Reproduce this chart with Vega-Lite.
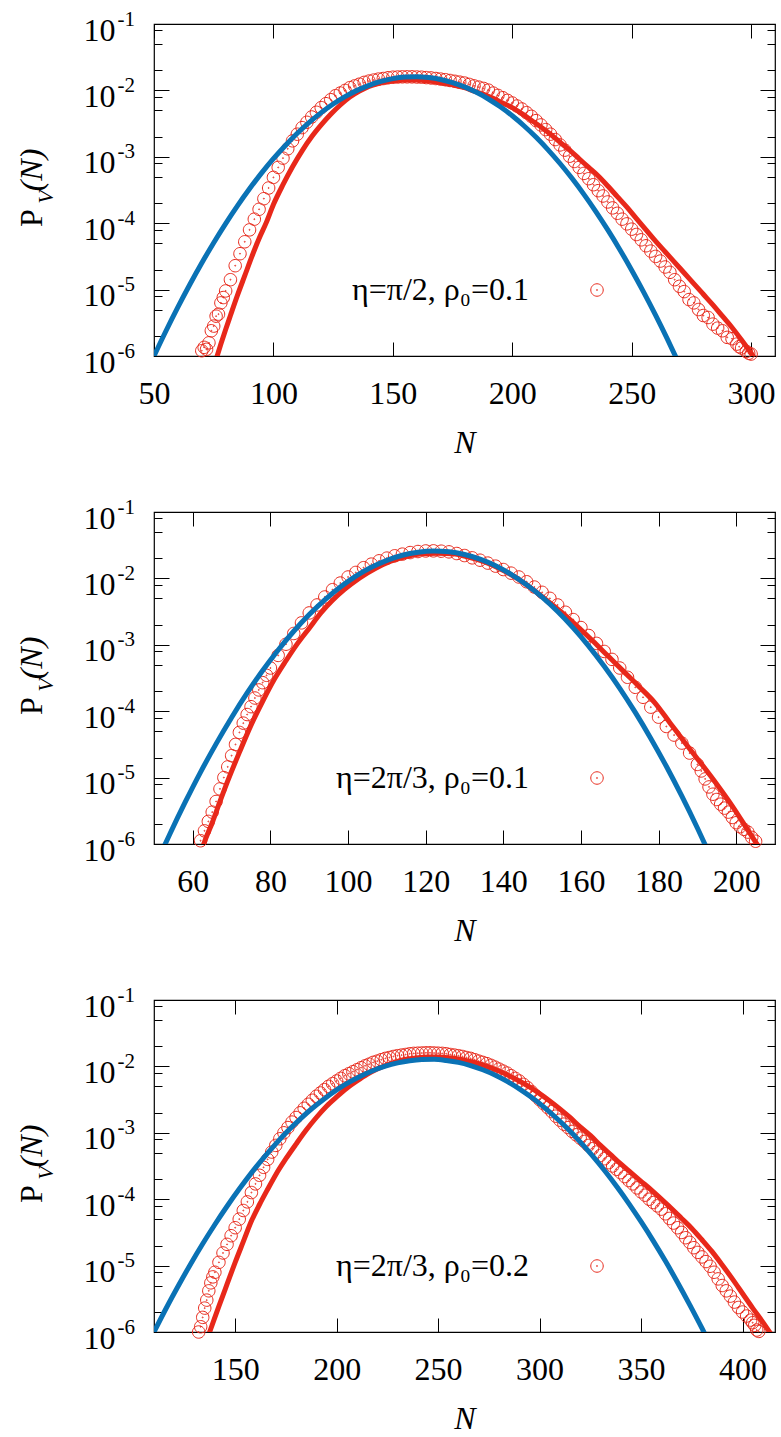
{
"$schema": "https://vega.github.io/schema/vega-lite/v6.json",
"padding": {"left": 14, "top": 7, "right": 0, "bottom": 0},
"spacing": 156,
"bounds": "flush",
"resolve": {"scale": {"x": "independent", "y": "independent", "color": "independent"}, "legend": {"color": "independent"}},
"config": {
  "font": "Liberation Serif",
  "view": {"stroke": "black", "strokeWidth": 1.2},
  "style": {"guide-label": {"font": "Liberation Serif"}, "guide-title": {"font": "Liberation Serif"}},
  "axis": {"labelFont": "Liberation Serif", "titleFont": "Liberation Serif", "labelColor": "black", "titleColor": "black", "tickColor": "black", "tickWidth": 1, "domain": false, "grid": false, "labelFlush": false, "labelOverlap": false, "titleFontWeight": "normal", "labelFontSize": 32, "titleFontSize": 32},
  "legend": {"labelFont": "Liberation Serif"}
},
"datasets": {
"c1": [{"N":70,"P":1.20e-6},{"N":71,"P":1.35e-6},{"N":72,"P":1.26e-6},{"N":73,"P":1.58e-6},{"N":74,"P":2.40e-6},{"N":75,"P":2.82e-6},{"N":76,"P":3.98e-6},{"N":77,"P":4.27e-6},{"N":78,"P":6.31e-6},{"N":79,"P":7.59e-6},{"N":80,"P":9.55e-6},{"N":82,"P":1.41e-5},{"N":84,"P":2.29e-5},{"N":86,"P":3.47e-5},{"N":88,"P":5.25e-5},{"N":90,"P":7.94e-5},{"N":92,"P":1.15e-4},{"N":94,"P":1.62e-4},{"N":96,"P":2.34e-4},{"N":98,"P":3.39e-4},{"N":100,"P":4.90e-4},{"N":102,"P":6.92e-4},{"N":104,"P":9.55e-4},{"N":106,"P":1.32e-3},{"N":108,"P":1.74e-3},{"N":110,"P":2.19e-3},{"N":112,"P":2.75e-3},{"N":114,"P":3.31e-3},{"N":116,"P":3.98e-3},{"N":118,"P":4.68e-3},{"N":120,"P":5.50e-3},{"N":122,"P":6.31e-3},{"N":124,"P":7.24e-3},{"N":126,"P":8.32e-3},{"N":128,"P":9.12e-3},{"N":130,"P":1.00e-2},{"N":132,"P":1.10e-2},{"N":134,"P":1.17e-2},{"N":136,"P":1.24e-2},{"N":138,"P":1.32e-2},{"N":140,"P":1.38e-2},{"N":142,"P":1.43e-2},{"N":144,"P":1.48e-2},{"N":146,"P":1.51e-2},{"N":148,"P":1.55e-2},{"N":150,"P":1.58e-2},{"N":152,"P":1.59e-2},{"N":154,"P":1.60e-2},{"N":156,"P":1.60e-2},{"N":158,"P":1.60e-2},{"N":160,"P":1.59e-2},{"N":162,"P":1.58e-2},{"N":164,"P":1.56e-2},{"N":166,"P":1.54e-2},{"N":168,"P":1.51e-2},{"N":170,"P":1.48e-2},{"N":172,"P":1.45e-2},{"N":174,"P":1.41e-2},{"N":176,"P":1.37e-2},{"N":178,"P":1.33e-2},{"N":180,"P":1.29e-2},{"N":182,"P":1.23e-2},{"N":184,"P":1.17e-2},{"N":186,"P":1.12e-2},{"N":188,"P":1.07e-2},{"N":190,"P":1.01e-2},{"N":192,"P":9.12e-3},{"N":194,"P":8.41e-3},{"N":196,"P":7.76e-3},{"N":198,"P":7.08e-3},{"N":200,"P":6.46e-3},{"N":202,"P":5.82e-3},{"N":204,"P":5.25e-3},{"N":206,"P":4.62e-3},{"N":208,"P":4.07e-3},{"N":210,"P":3.51e-3},{"N":212,"P":3.02e-3},{"N":214,"P":2.57e-3},{"N":216,"P":2.19e-3},{"N":218,"P":1.82e-3},{"N":220,"P":1.51e-3},{"N":222,"P":1.26e-3},{"N":224,"P":1.02e-3},{"N":226,"P":8.51e-4},{"N":228,"P":6.92e-4},{"N":230,"P":5.62e-4},{"N":232,"P":4.68e-4},{"N":234,"P":3.80e-4},{"N":236,"P":3.09e-4},{"N":238,"P":2.57e-4},{"N":240,"P":2.09e-4},{"N":242,"P":1.70e-4},{"N":244,"P":1.41e-4},{"N":246,"P":1.15e-4},{"N":248,"P":9.77e-5},{"N":250,"P":8.13e-5},{"N":252,"P":6.76e-5},{"N":254,"P":5.62e-5},{"N":256,"P":4.57e-5},{"N":258,"P":3.80e-5},{"N":260,"P":3.16e-5},{"N":262,"P":2.69e-5},{"N":264,"P":2.19e-5},{"N":266,"P":1.82e-5},{"N":268,"P":1.41e-5},{"N":270,"P":1.12e-5},{"N":272,"P":9.33e-6},{"N":274,"P":7.08e-6},{"N":276,"P":6.31e-6},{"N":278,"P":5.01e-6},{"N":280,"P":4.07e-6},{"N":282,"P":3.80e-6},{"N":284,"P":3.02e-6},{"N":286,"P":2.63e-6},{"N":288,"P":2.40e-6},{"N":290,"P":1.91e-6},{"N":292,"P":1.82e-6},{"N":294,"P":1.51e-6},{"N":295,"P":1.38e-6},{"N":296,"P":1.32e-6},{"N":298,"P":1.17e-6},{"N":299,"P":1.10e-6},{"N":300,"P":1.07e-6}],
"l1": [{"N":76,"P":8.91e-7},{"N":78,"P":1.51e-6},{"N":80,"P":2.51e-6},{"N":82,"P":4.07e-6},{"N":85,"P":8.32e-6},{"N":88,"P":1.62e-5},{"N":91,"P":3.16e-5},{"N":94,"P":5.89e-5},{"N":97,"P":1.02e-4},{"N":100,"P":1.91e-4},{"N":104,"P":3.80e-4},{"N":108,"P":7.08e-4},{"N":112,"P":1.23e-3},{"N":116,"P":2.00e-3},{"N":120,"P":3.02e-3},{"N":124,"P":4.37e-3},{"N":128,"P":6.03e-3},{"N":132,"P":7.94e-3},{"N":136,"P":9.77e-3},{"N":140,"P":1.15e-2},{"N":144,"P":1.27e-2},{"N":148,"P":1.36e-2},{"N":152,"P":1.41e-2},{"N":156,"P":1.44e-2},{"N":160,"P":1.43e-2},{"N":164,"P":1.40e-2},{"N":168,"P":1.35e-2},{"N":172,"P":1.27e-2},{"N":176,"P":1.19e-2},{"N":180,"P":1.10e-2},{"N":184,"P":9.77e-3},{"N":188,"P":8.71e-3},{"N":192,"P":7.59e-3},{"N":196,"P":6.46e-3},{"N":200,"P":5.50e-3},{"N":204,"P":4.47e-3},{"N":208,"P":3.55e-3},{"N":212,"P":2.82e-3},{"N":216,"P":2.19e-3},{"N":220,"P":1.66e-3},{"N":224,"P":1.26e-3},{"N":228,"P":9.33e-4},{"N":232,"P":6.92e-4},{"N":236,"P":5.13e-4},{"N":240,"P":3.63e-4},{"N":244,"P":2.51e-4},{"N":248,"P":1.74e-4},{"N":252,"P":1.17e-4},{"N":256,"P":7.94e-5},{"N":260,"P":5.37e-5},{"N":264,"P":3.72e-5},{"N":268,"P":2.57e-5},{"N":272,"P":1.78e-5},{"N":276,"P":1.23e-5},{"N":280,"P":8.51e-6},{"N":284,"P":5.89e-6},{"N":288,"P":3.98e-6},{"N":292,"P":2.69e-6},{"N":296,"P":1.74e-6},{"N":300,"P":1.10e-6},{"N":303,"P":7.59e-7}],
"b1": [{"N":50,"P":1.000e-6},{"N":55,"P":2.381e-6},{"N":60,"P":5.440e-6},{"N":65,"P":1.193e-5},{"N":70,"P":2.515e-5},{"N":75,"P":5.087e-5},{"N":80,"P":9.879e-5},{"N":85,"P":1.842e-4},{"N":90,"P":3.298e-4},{"N":95,"P":5.670e-4},{"N":100,"P":9.358e-4},{"N":105,"P":1.483e-3},{"N":110,"P":2.258e-3},{"N":115,"P":3.299e-3},{"N":120,"P":4.627e-3},{"N":125,"P":6.233e-3},{"N":130,"P":8.062e-3},{"N":135,"P":1.001e-2},{"N":140,"P":1.194e-2},{"N":145,"P":1.367e-2},{"N":150,"P":1.503e-2},{"N":155,"P":1.586e-2},{"N":160,"P":1.608e-2},{"N":165,"P":1.565e-2},{"N":170,"P":1.462e-2},{"N":175,"P":1.312e-2},{"N":180,"P":1.130e-2},{"N":185,"P":9.346e-3},{"N":190,"P":7.423e-3},{"N":195,"P":5.657e-3},{"N":200,"P":4.143e-3},{"N":205,"P":2.911e-3},{"N":210,"P":1.966e-3},{"N":215,"P":1.274e-3},{"N":220,"P":7.926e-4},{"N":225,"P":4.738e-4},{"N":230,"P":2.718e-4},{"N":235,"P":1.497e-4},{"N":240,"P":7.917e-5},{"N":245,"P":4.022e-5},{"N":250,"P":1.961e-5},{"N":255,"P":9.180e-6},{"N":260,"P":4.126e-6},{"N":265,"P":1.780e-6},{"N":270,"P":7.384e-7}],
"c2": [{"N":62,"P":1.12e-6},{"N":63,"P":1.58e-6},{"N":64,"P":2.19e-6},{"N":65,"P":3.02e-6},{"N":66,"P":4.37e-6},{"N":67,"P":6.76e-6},{"N":68,"P":1.00e-5},{"N":69,"P":1.45e-5},{"N":70,"P":2.14e-5},{"N":71,"P":3.16e-5},{"N":72,"P":4.79e-5},{"N":73,"P":6.61e-5},{"N":74,"P":8.91e-5},{"N":75,"P":1.17e-4},{"N":76,"P":1.58e-4},{"N":77,"P":2.09e-4},{"N":78,"P":2.69e-4},{"N":79,"P":3.47e-4},{"N":80,"P":4.47e-4},{"N":82,"P":6.92e-4},{"N":84,"P":1.02e-3},{"N":86,"P":1.48e-3},{"N":88,"P":2.14e-3},{"N":90,"P":3.02e-3},{"N":92,"P":3.98e-3},{"N":94,"P":5.25e-3},{"N":96,"P":6.76e-3},{"N":98,"P":8.51e-3},{"N":100,"P":1.05e-2},{"N":102,"P":1.23e-2},{"N":104,"P":1.45e-2},{"N":106,"P":1.64e-2},{"N":108,"P":1.84e-2},{"N":110,"P":2.02e-2},{"N":112,"P":2.19e-2},{"N":114,"P":2.32e-2},{"N":116,"P":2.45e-2},{"N":118,"P":2.54e-2},{"N":120,"P":2.59e-2},{"N":122,"P":2.60e-2},{"N":124,"P":2.57e-2},{"N":126,"P":2.51e-2},{"N":128,"P":2.37e-2},{"N":130,"P":2.21e-2},{"N":132,"P":2.04e-2},{"N":134,"P":1.88e-2},{"N":136,"P":1.70e-2},{"N":138,"P":1.53e-2},{"N":140,"P":1.36e-2},{"N":142,"P":1.20e-2},{"N":144,"P":1.05e-2},{"N":146,"P":8.91e-3},{"N":148,"P":7.41e-3},{"N":150,"P":6.17e-3},{"N":152,"P":5.01e-3},{"N":154,"P":3.98e-3},{"N":156,"P":3.09e-3},{"N":158,"P":2.40e-3},{"N":160,"P":1.82e-3},{"N":162,"P":1.38e-3},{"N":164,"P":1.05e-3},{"N":166,"P":7.94e-4},{"N":168,"P":6.03e-4},{"N":170,"P":4.47e-4},{"N":172,"P":3.24e-4},{"N":174,"P":2.29e-4},{"N":176,"P":1.62e-4},{"N":178,"P":1.15e-4},{"N":180,"P":8.13e-5},{"N":182,"P":5.89e-5},{"N":184,"P":4.37e-5},{"N":186,"P":3.31e-5},{"N":188,"P":2.34e-5},{"N":190,"P":1.58e-5},{"N":191,"P":1.26e-5},{"N":192,"P":9.55e-6},{"N":193,"P":7.24e-6},{"N":194,"P":5.62e-6},{"N":195,"P":4.68e-6},{"N":196,"P":3.98e-6},{"N":197,"P":3.47e-6},{"N":198,"P":3.02e-6},{"N":199,"P":2.51e-6},{"N":200,"P":2.09e-6},{"N":201,"P":1.82e-6},{"N":202,"P":1.66e-6},{"N":203,"P":1.51e-6},{"N":204,"P":1.26e-6},{"N":205,"P":1.10e-6}],
"l2": [{"N":62,"P":7.08e-7},{"N":63,"P":1.07e-6},{"N":65,"P":2.09e-6},{"N":67,"P":4.37e-6},{"N":69,"P":8.91e-6},{"N":72,"P":2.40e-5},{"N":75,"P":6.17e-5},{"N":78,"P":1.41e-4},{"N":81,"P":3.02e-4},{"N":84,"P":5.75e-4},{"N":87,"P":1.05e-3},{"N":90,"P":1.78e-3},{"N":93,"P":3.02e-3},{"N":96,"P":4.68e-3},{"N":99,"P":6.76e-3},{"N":103,"P":1.02e-2},{"N":107,"P":1.41e-2},{"N":111,"P":1.82e-2},{"N":115,"P":2.14e-2},{"N":119,"P":2.34e-2},{"N":123,"P":2.40e-2},{"N":127,"P":2.34e-2},{"N":131,"P":2.09e-2},{"N":135,"P":1.78e-2},{"N":139,"P":1.41e-2},{"N":143,"P":1.05e-2},{"N":147,"P":7.24e-3},{"N":151,"P":4.79e-3},{"N":155,"P":3.09e-3},{"N":159,"P":1.91e-3},{"N":163,"P":1.15e-3},{"N":167,"P":6.76e-4},{"N":171,"P":3.98e-4},{"N":175,"P":2.34e-4},{"N":179,"P":1.35e-4},{"N":183,"P":6.61e-5},{"N":187,"P":3.24e-5},{"N":191,"P":1.62e-5},{"N":195,"P":7.94e-6},{"N":199,"P":3.72e-6},{"N":203,"P":1.62e-6},{"N":207,"P":7.08e-7}],
"b2": [{"N":52,"P":7.71e-7},{"N":54,"P":1.38e-6},{"N":58,"P":4.22e-6},{"N":62,"P":1.21e-5},{"N":66,"P":3.22e-5},{"N":70,"P":8.04e-5},{"N":74,"P":1.88e-4},{"N":78,"P":4.10e-4},{"N":82,"P":8.37e-4},{"N":86,"P":1.60e-3},{"N":90,"P":2.85e-3},{"N":94,"P":4.75e-3},{"N":98,"P":7.40e-3},{"N":102,"P":1.08e-2},{"N":106,"P":1.47e-2},{"N":110,"P":1.87e-2},{"N":114,"P":2.23e-2},{"N":118,"P":2.48e-2},{"N":122,"P":2.59e-2},{"N":126,"P":2.52e-2},{"N":130,"P":2.29e-2},{"N":134,"P":1.95e-2},{"N":138,"P":1.55e-2},{"N":142,"P":1.15e-2},{"N":146,"P":8.02e-3},{"N":150,"P":5.22e-3},{"N":154,"P":3.17e-3},{"N":158,"P":1.80e-3},{"N":162,"P":9.57e-4},{"N":166,"P":4.75e-4},{"N":170,"P":2.21e-4},{"N":174,"P":9.58e-5},{"N":178,"P":3.89e-5},{"N":182,"P":1.48e-5},{"N":186,"P":5.24e-6},{"N":190,"P":1.74e-6},{"N":194,"P":5.38e-7}],
"c3": [{"N":132,"P":1.00e-6},{"N":133,"P":1.20e-6},{"N":134,"P":1.66e-6},{"N":135,"P":2.29e-6},{"N":136,"P":3.02e-6},{"N":137,"P":4.17e-6},{"N":138,"P":5.50e-6},{"N":139,"P":6.76e-6},{"N":140,"P":7.94e-6},{"N":142,"P":1.12e-5},{"N":144,"P":1.55e-5},{"N":146,"P":2.09e-5},{"N":148,"P":2.82e-5},{"N":150,"P":3.72e-5},{"N":152,"P":5.01e-5},{"N":154,"P":6.76e-5},{"N":156,"P":9.12e-5},{"N":158,"P":1.26e-4},{"N":160,"P":1.70e-4},{"N":162,"P":2.29e-4},{"N":164,"P":3.02e-4},{"N":166,"P":3.98e-4},{"N":168,"P":5.13e-4},{"N":170,"P":6.46e-4},{"N":172,"P":8.13e-4},{"N":174,"P":1.00e-3},{"N":176,"P":1.20e-3},{"N":178,"P":1.45e-3},{"N":180,"P":1.70e-3},{"N":182,"P":2.00e-3},{"N":184,"P":2.34e-3},{"N":186,"P":2.69e-3},{"N":188,"P":3.09e-3},{"N":190,"P":3.55e-3},{"N":192,"P":3.98e-3},{"N":194,"P":4.47e-3},{"N":196,"P":5.01e-3},{"N":198,"P":5.50e-3},{"N":200,"P":6.03e-3},{"N":202,"P":6.61e-3},{"N":204,"P":7.24e-3},{"N":206,"P":7.76e-3},{"N":208,"P":8.32e-3},{"N":210,"P":8.91e-3},{"N":212,"P":9.55e-3},{"N":214,"P":1.02e-2},{"N":216,"P":1.08e-2},{"N":218,"P":1.15e-2},{"N":220,"P":1.20e-2},{"N":222,"P":1.26e-2},{"N":224,"P":1.32e-2},{"N":226,"P":1.36e-2},{"N":228,"P":1.41e-2},{"N":230,"P":1.45e-2},{"N":232,"P":1.48e-2},{"N":234,"P":1.51e-2},{"N":236,"P":1.55e-2},{"N":238,"P":1.57e-2},{"N":240,"P":1.58e-2},{"N":242,"P":1.59e-2},{"N":244,"P":1.60e-2},{"N":246,"P":1.60e-2},{"N":248,"P":1.59e-2},{"N":250,"P":1.58e-2},{"N":252,"P":1.57e-2},{"N":254,"P":1.55e-2},{"N":256,"P":1.51e-2},{"N":258,"P":1.48e-2},{"N":260,"P":1.45e-2},{"N":262,"P":1.41e-2},{"N":264,"P":1.36e-2},{"N":266,"P":1.32e-2},{"N":268,"P":1.26e-2},{"N":270,"P":1.20e-2},{"N":272,"P":1.15e-2},{"N":274,"P":1.10e-2},{"N":276,"P":1.04e-2},{"N":278,"P":9.77e-3},{"N":280,"P":9.12e-3},{"N":282,"P":8.51e-3},{"N":284,"P":7.94e-3},{"N":286,"P":7.24e-3},{"N":288,"P":6.61e-3},{"N":290,"P":6.03e-3},{"N":292,"P":5.37e-3},{"N":294,"P":4.79e-3},{"N":296,"P":4.17e-3},{"N":298,"P":3.63e-3},{"N":300,"P":3.16e-3},{"N":302,"P":2.75e-3},{"N":304,"P":2.40e-3},{"N":306,"P":2.09e-3},{"N":308,"P":1.78e-3},{"N":310,"P":1.55e-3},{"N":312,"P":1.35e-3},{"N":314,"P":1.20e-3},{"N":316,"P":1.05e-3},{"N":318,"P":9.33e-4},{"N":320,"P":8.32e-4},{"N":322,"P":7.41e-4},{"N":324,"P":6.46e-4},{"N":326,"P":5.75e-4},{"N":328,"P":5.13e-4},{"N":330,"P":4.57e-4},{"N":332,"P":4.07e-4},{"N":334,"P":3.55e-4},{"N":336,"P":3.16e-4},{"N":338,"P":2.82e-4},{"N":340,"P":2.51e-4},{"N":342,"P":2.19e-4},{"N":344,"P":1.91e-4},{"N":346,"P":1.70e-4},{"N":348,"P":1.48e-4},{"N":350,"P":1.29e-4},{"N":352,"P":1.15e-4},{"N":354,"P":1.00e-4},{"N":356,"P":8.91e-5},{"N":358,"P":7.94e-5},{"N":360,"P":7.08e-5},{"N":362,"P":6.03e-5},{"N":364,"P":5.13e-5},{"N":366,"P":4.37e-5},{"N":368,"P":3.72e-5},{"N":370,"P":3.16e-5},{"N":372,"P":2.63e-5},{"N":374,"P":2.24e-5},{"N":376,"P":1.86e-5},{"N":378,"P":1.58e-5},{"N":380,"P":1.35e-5},{"N":382,"P":1.15e-5},{"N":384,"P":9.77e-6},{"N":386,"P":7.94e-6},{"N":388,"P":6.31e-6},{"N":390,"P":5.01e-6},{"N":392,"P":4.17e-6},{"N":394,"P":3.47e-6},{"N":396,"P":2.82e-6},{"N":398,"P":2.34e-6},{"N":400,"P":2.00e-6},{"N":402,"P":1.74e-6},{"N":404,"P":1.51e-6},{"N":405,"P":1.38e-6},{"N":406,"P":1.26e-6},{"N":407,"P":1.07e-6},{"N":408,"P":1.02e-6}],
"l3": [{"N":136,"P":7.59e-7},{"N":138,"P":1.12e-6},{"N":142,"P":2.45e-6},{"N":146,"P":5.25e-6},{"N":150,"P":1.12e-5},{"N":154,"P":2.29e-5},{"N":158,"P":4.68e-5},{"N":162,"P":8.32e-5},{"N":166,"P":1.41e-4},{"N":170,"P":2.34e-4},{"N":175,"P":4.07e-4},{"N":180,"P":6.76e-4},{"N":185,"P":1.10e-3},{"N":190,"P":1.70e-3},{"N":195,"P":2.51e-3},{"N":200,"P":3.47e-3},{"N":205,"P":4.68e-3},{"N":210,"P":6.03e-3},{"N":215,"P":7.59e-3},{"N":220,"P":9.12e-3},{"N":225,"P":1.06e-2},{"N":230,"P":1.19e-2},{"N":235,"P":1.29e-2},{"N":240,"P":1.35e-2},{"N":245,"P":1.38e-2},{"N":250,"P":1.38e-2},{"N":255,"P":1.35e-2},{"N":260,"P":1.29e-2},{"N":265,"P":1.20e-2},{"N":270,"P":1.10e-2},{"N":275,"P":9.77e-3},{"N":280,"P":8.51e-3},{"N":285,"P":7.24e-3},{"N":290,"P":6.03e-3},{"N":295,"P":4.90e-3},{"N":300,"P":3.89e-3},{"N":305,"P":3.02e-3},{"N":310,"P":2.29e-3},{"N":315,"P":1.70e-3},{"N":320,"P":1.23e-3},{"N":325,"P":9.12e-4},{"N":330,"P":6.46e-4},{"N":335,"P":4.68e-4},{"N":340,"P":3.39e-4},{"N":345,"P":2.51e-4},{"N":350,"P":1.86e-4},{"N":355,"P":1.38e-4},{"N":360,"P":1.00e-4},{"N":365,"P":7.24e-5},{"N":370,"P":5.13e-5},{"N":375,"P":3.63e-5},{"N":380,"P":2.45e-5},{"N":385,"P":1.62e-5},{"N":390,"P":1.02e-5},{"N":395,"P":6.31e-6},{"N":400,"P":3.80e-6},{"N":405,"P":2.29e-6},{"N":410,"P":1.41e-6},{"N":414,"P":9.33e-7}],
"b3": [{"N":110,"P":1.00e-6},{"N":116,"P":2.28e-6},{"N":122,"P":4.97e-6},{"N":128,"P":1.05e-5},{"N":134,"P":2.13e-5},{"N":140,"P":4.16e-5},{"N":146,"P":7.83e-5},{"N":152,"P":1.42e-4},{"N":158,"P":2.49e-4},{"N":164,"P":4.20e-4},{"N":170,"P":6.81e-4},{"N":176,"P":1.07e-3},{"N":182,"P":1.61e-3},{"N":188,"P":2.34e-3},{"N":194,"P":3.27e-3},{"N":200,"P":4.42e-3},{"N":206,"P":5.74e-3},{"N":212,"P":7.19e-3},{"N":218,"P":8.69e-3},{"N":224,"P":1.01e-2},{"N":230,"P":1.13e-2},{"N":236,"P":1.22e-2},{"N":242,"P":1.27e-2},{"N":248,"P":1.28e-2},{"N":254,"P":1.23e-2},{"N":260,"P":1.15e-2},{"N":266,"P":1.03e-2},{"N":272,"P":8.90e-3},{"N":278,"P":7.42e-3},{"N":284,"P":5.95e-3},{"N":290,"P":4.60e-3},{"N":296,"P":3.43e-3},{"N":302,"P":2.46e-3},{"N":308,"P":1.70e-3},{"N":314,"P":1.14e-3},{"N":320,"P":7.31e-4},{"N":326,"P":4.52e-4},{"N":332,"P":2.70e-4},{"N":338,"P":1.55e-4},{"N":344,"P":8.59e-5},{"N":350,"P":4.58e-5},{"N":356,"P":2.36e-5},{"N":362,"P":1.17e-5},{"N":368,"P":5.57e-6},{"N":374,"P":2.56e-6},{"N":380,"P":1.14e-6},{"N":386,"P":4.86e-7}]
},
"vconcat": [
{
 "width": 621, "height": 332,
 "resolve": {"axis": {"x": "independent", "y": "independent"}},
 "layer": [
  {"data": {"name": "c1"},
   "mark": {"type": "point", "shape": "M-1,0A1,1,0,1,0,1,0A1,1,0,1,0,-1,0ZM-0.08,0A0.08,0.08,0,1,0,0.08,0A0.08,0.08,0,1,0,-0.08,0Z", "size": 155, "strokeWidth": 1, "filled": false, "opacity": 1},
   "encoding": {
    "x": {"field": "N", "type": "quantitative", "scale": {"domain": [50, 310], "nice": false, "zero": false},
      "axis": {"orient": "bottom", "values": [50,100,150,200,250,300], "tickSize": -14, "labelPadding": 61, "labelBaseline": "alphabetic", "labelFont": "Liberation Serif", "titleFont": "Liberation Serif", "title": "N", "titleFontStyle": "italic", "titleX": 310.5, "titleY": 96, "titleAlign": "center", "titleBaseline": "alphabetic"}},
    "y": {"field": "P", "type": "quantitative", "scale": {"type": "log", "domain": [1e-6, 0.1], "nice": false},
      "axis": {"orient": "left", "values": [1e-6,2e-6,5e-6,8e-6,1e-5,2e-5,5e-5,8e-5,0.0001,0.0002,0.0005,0.0008,0.001,0.002,0.005,0.008,0.01,0.02,0.05,0.08,0.1],
        "labelExpr": "abs(log(datum.value)/LN10-round(log(datum.value)/LN10))<0.01 ? '10' : ''",
        "tickSize": {"condition": {"test": "abs(log(datum.value)/LN10-round(log(datum.value)/LN10))<0.01", "value": -15}, "value": -8},
        "labelPadding": 54, "labelAlign": "right", "labelBaseline": "alphabetic", "labelOffset": 16, "labelFont": "Liberation Serif", "titleFont": "Liberation Serif",
        "title": "P", "titleAngle": 270, "titleX": -112.5, "titleY": 193.5, "titleAlign": "center", "titleBaseline": "alphabetic"}},
    "color": {"datum": "η=π/2, ρ₀=0.1", "type": "nominal", "scale": {"range": ["#e8281a"]},
      "legend": {"orient": "none", "legendX": 427, "legendY": 250, "title": null, "padding": 0, "labelFont": "Liberation Serif", "labelFontSize": 32, "labelAlign": "right", "labelOffset": -84, "labelLimit": 500, "symbolType": "M-1,0A1,1,0,1,0,1,0A1,1,0,1,0,-1,0ZM-0.08,0A0.08,0.08,0,1,0,0.08,0A0.08,0.08,0,1,0,-0.08,0Z", "symbolSize": 155, "symbolStrokeWidth": 1}}
   }},
  {"data": {"name": "l1"},
   "mark": {"type": "line", "color": "#e8281a", "strokeWidth": 5, "clip": true, "interpolate": "monotone"},
   "encoding": {
    "x": {"field": "N", "type": "quantitative", "axis": {"orient": "top", "values": [50,100,150,200,250,300], "tickSize": -14, "labels": false, "titleFont": "Liberation Serif", "title": "(N)", "titleFontStyle": "italic", "titleAngle": 270, "titleX": -112.5, "titleY": 145.5, "titleAlign": "center", "titleBaseline": "alphabetic"}},
    "y": {"field": "P", "type": "quantitative", "axis": {"orient": "right", "values": [1e-6,2e-6,5e-6,8e-6,1e-5,2e-5,5e-5,8e-5,0.0001,0.0002,0.0005,0.0008,0.001,0.002,0.005,0.008,0.01,0.02,0.05,0.08,0.1],
        "tickSize": {"condition": {"test": "abs(log(datum.value)/LN10-round(log(datum.value)/LN10))<0.01", "value": -15}, "value": -8}, "labels": false, "title": null}}
   }},
  {"data": {"name": "b1"},
   "mark": {"type": "line", "color": "#0a72b5", "strokeWidth": 5, "clip": true, "interpolate": "monotone"},
   "encoding": {
    "x": {"field": "N", "type": "quantitative", "axis": null},
    "y": {"field": "P", "type": "quantitative", "axis": {"orient": "left", "values": [1e-6,1e-5,0.0001,0.001,0.01,0.1], "ticks": false,
        "labelExpr": "'-'+round(-log(datum.value)/LN10)", "labelAlign": "left", "labelPadding": 37, "labelFontSize": 21, "labelBaseline": "alphabetic", "labelOffset": 1, "labelFont": "Liberation Serif", "titleFont": "Liberation Serif",
        "title": "V", "titleFontStyle": "italic", "titleFontSize": 22, "titleAngle": 270, "titleX": -102, "titleY": 172.5, "titleAlign": "center", "titleBaseline": "alphabetic"}}
   }}
 ]
},
{
 "width": 621, "height": 332,
 "resolve": {"axis": {"x": "independent", "y": "independent"}},
 "layer": [
  {"data": {"name": "c2"},
   "mark": {"type": "point", "shape": "M-1,0A1,1,0,1,0,1,0A1,1,0,1,0,-1,0ZM-0.08,0A0.08,0.08,0,1,0,0.08,0A0.08,0.08,0,1,0,-0.08,0Z", "size": 155, "strokeWidth": 1, "filled": false, "opacity": 1},
   "encoding": {
    "x": {"field": "N", "type": "quantitative", "scale": {"domain": [50, 210], "nice": false, "zero": false},
      "axis": {"orient": "bottom", "values": [60,80,100,120,140,160,180,200], "tickSize": -14, "labelPadding": 61, "labelBaseline": "alphabetic", "labelFont": "Liberation Serif", "titleFont": "Liberation Serif", "title": "N", "titleFontStyle": "italic", "titleX": 310.5, "titleY": 96, "titleAlign": "center", "titleBaseline": "alphabetic"}},
    "y": {"field": "P", "type": "quantitative", "scale": {"type": "log", "domain": [1e-6, 0.1], "nice": false},
      "axis": {"orient": "left", "values": [1e-6,2e-6,5e-6,8e-6,1e-5,2e-5,5e-5,8e-5,0.0001,0.0002,0.0005,0.0008,0.001,0.002,0.005,0.008,0.01,0.02,0.05,0.08,0.1],
        "labelExpr": "abs(log(datum.value)/LN10-round(log(datum.value)/LN10))<0.01 ? '10' : ''",
        "tickSize": {"condition": {"test": "abs(log(datum.value)/LN10-round(log(datum.value)/LN10))<0.01", "value": -15}, "value": -8},
        "labelPadding": 54, "labelAlign": "right", "labelBaseline": "alphabetic", "labelOffset": 16, "labelFont": "Liberation Serif", "titleFont": "Liberation Serif",
        "title": "P", "titleAngle": 270, "titleX": -112.5, "titleY": 193.5, "titleAlign": "center", "titleBaseline": "alphabetic"}},
    "color": {"datum": "η=2π/3, ρ₀=0.1", "type": "nominal", "scale": {"range": ["#e8281a"]},
      "legend": {"orient": "none", "legendX": 427, "legendY": 250, "title": null, "padding": 0, "labelFont": "Liberation Serif", "labelFontSize": 32, "labelAlign": "right", "labelOffset": -84, "labelLimit": 500, "symbolType": "M-1,0A1,1,0,1,0,1,0A1,1,0,1,0,-1,0ZM-0.08,0A0.08,0.08,0,1,0,0.08,0A0.08,0.08,0,1,0,-0.08,0Z", "symbolSize": 155, "symbolStrokeWidth": 1}}
   }},
  {"data": {"name": "l2"},
   "mark": {"type": "line", "color": "#e8281a", "strokeWidth": 5, "clip": true, "interpolate": "monotone"},
   "encoding": {
    "x": {"field": "N", "type": "quantitative", "axis": {"orient": "top", "values": [60,80,100,120,140,160,180,200], "tickSize": -14, "labels": false, "titleFont": "Liberation Serif", "title": "(N)", "titleFontStyle": "italic", "titleAngle": 270, "titleX": -112.5, "titleY": 145.5, "titleAlign": "center", "titleBaseline": "alphabetic"}},
    "y": {"field": "P", "type": "quantitative", "axis": {"orient": "right", "values": [1e-6,2e-6,5e-6,8e-6,1e-5,2e-5,5e-5,8e-5,0.0001,0.0002,0.0005,0.0008,0.001,0.002,0.005,0.008,0.01,0.02,0.05,0.08,0.1],
        "tickSize": {"condition": {"test": "abs(log(datum.value)/LN10-round(log(datum.value)/LN10))<0.01", "value": -15}, "value": -8}, "labels": false, "title": null}}
   }},
  {"data": {"name": "b2"},
   "mark": {"type": "line", "color": "#0a72b5", "strokeWidth": 5, "clip": true, "interpolate": "monotone"},
   "encoding": {
    "x": {"field": "N", "type": "quantitative", "axis": null},
    "y": {"field": "P", "type": "quantitative", "axis": {"orient": "left", "values": [1e-6,1e-5,0.0001,0.001,0.01,0.1], "ticks": false,
        "labelExpr": "'-'+round(-log(datum.value)/LN10)", "labelAlign": "left", "labelPadding": 37, "labelFontSize": 21, "labelBaseline": "alphabetic", "labelOffset": 1, "labelFont": "Liberation Serif", "titleFont": "Liberation Serif",
        "title": "V", "titleFontStyle": "italic", "titleFontSize": 22, "titleAngle": 270, "titleX": -102, "titleY": 172.5, "titleAlign": "center", "titleBaseline": "alphabetic"}}
   }}
 ]
},
{
 "width": 621, "height": 332,
 "resolve": {"axis": {"x": "independent", "y": "independent"}},
 "layer": [
  {"data": {"name": "c3"},
   "mark": {"type": "point", "shape": "M-1,0A1,1,0,1,0,1,0A1,1,0,1,0,-1,0ZM-0.08,0A0.08,0.08,0,1,0,0.08,0A0.08,0.08,0,1,0,-0.08,0Z", "size": 155, "strokeWidth": 1, "filled": false, "opacity": 1},
   "encoding": {
    "x": {"field": "N", "type": "quantitative", "scale": {"domain": [110, 416], "nice": false, "zero": false},
      "axis": {"orient": "bottom", "values": [150,200,250,300,350,400], "tickSize": -14, "labelPadding": 61, "labelBaseline": "alphabetic", "labelFont": "Liberation Serif", "titleFont": "Liberation Serif", "title": "N", "titleFontStyle": "italic", "titleX": 310.5, "titleY": 96, "titleAlign": "center", "titleBaseline": "alphabetic"}},
    "y": {"field": "P", "type": "quantitative", "scale": {"type": "log", "domain": [1e-6, 0.1], "nice": false},
      "axis": {"orient": "left", "values": [1e-6,2e-6,5e-6,8e-6,1e-5,2e-5,5e-5,8e-5,0.0001,0.0002,0.0005,0.0008,0.001,0.002,0.005,0.008,0.01,0.02,0.05,0.08,0.1],
        "labelExpr": "abs(log(datum.value)/LN10-round(log(datum.value)/LN10))<0.01 ? '10' : ''",
        "tickSize": {"condition": {"test": "abs(log(datum.value)/LN10-round(log(datum.value)/LN10))<0.01", "value": -15}, "value": -8},
        "labelPadding": 54, "labelAlign": "right", "labelBaseline": "alphabetic", "labelOffset": 16, "labelFont": "Liberation Serif", "titleFont": "Liberation Serif",
        "title": "P", "titleAngle": 270, "titleX": -112.5, "titleY": 193.5, "titleAlign": "center", "titleBaseline": "alphabetic"}},
    "color": {"datum": "η=2π/3, ρ₀=0.2", "type": "nominal", "scale": {"range": ["#e8281a"]},
      "legend": {"orient": "none", "legendX": 427, "legendY": 250, "title": null, "padding": 0, "labelFont": "Liberation Serif", "labelFontSize": 32, "labelAlign": "right", "labelOffset": -84, "labelLimit": 500, "symbolType": "M-1,0A1,1,0,1,0,1,0A1,1,0,1,0,-1,0ZM-0.08,0A0.08,0.08,0,1,0,0.08,0A0.08,0.08,0,1,0,-0.08,0Z", "symbolSize": 155, "symbolStrokeWidth": 1}}
   }},
  {"data": {"name": "l3"},
   "mark": {"type": "line", "color": "#e8281a", "strokeWidth": 5, "clip": true, "interpolate": "monotone"},
   "encoding": {
    "x": {"field": "N", "type": "quantitative", "axis": {"orient": "top", "values": [150,200,250,300,350,400], "tickSize": -14, "labels": false, "titleFont": "Liberation Serif", "title": "(N)", "titleFontStyle": "italic", "titleAngle": 270, "titleX": -112.5, "titleY": 145.5, "titleAlign": "center", "titleBaseline": "alphabetic"}},
    "y": {"field": "P", "type": "quantitative", "axis": {"orient": "right", "values": [1e-6,2e-6,5e-6,8e-6,1e-5,2e-5,5e-5,8e-5,0.0001,0.0002,0.0005,0.0008,0.001,0.002,0.005,0.008,0.01,0.02,0.05,0.08,0.1],
        "tickSize": {"condition": {"test": "abs(log(datum.value)/LN10-round(log(datum.value)/LN10))<0.01", "value": -15}, "value": -8}, "labels": false, "title": null}}
   }},
  {"data": {"name": "b3"},
   "mark": {"type": "line", "color": "#0a72b5", "strokeWidth": 5, "clip": true, "interpolate": "monotone"},
   "encoding": {
    "x": {"field": "N", "type": "quantitative", "axis": null},
    "y": {"field": "P", "type": "quantitative", "axis": {"orient": "left", "values": [1e-6,1e-5,0.0001,0.001,0.01,0.1], "ticks": false,
        "labelExpr": "'-'+round(-log(datum.value)/LN10)", "labelAlign": "left", "labelPadding": 37, "labelFontSize": 21, "labelBaseline": "alphabetic", "labelOffset": 1, "labelFont": "Liberation Serif", "titleFont": "Liberation Serif",
        "title": "V", "titleFontStyle": "italic", "titleFontSize": 22, "titleAngle": 270, "titleX": -102, "titleY": 172.5, "titleAlign": "center", "titleBaseline": "alphabetic"}}
   }}
 ]
}
]
}
